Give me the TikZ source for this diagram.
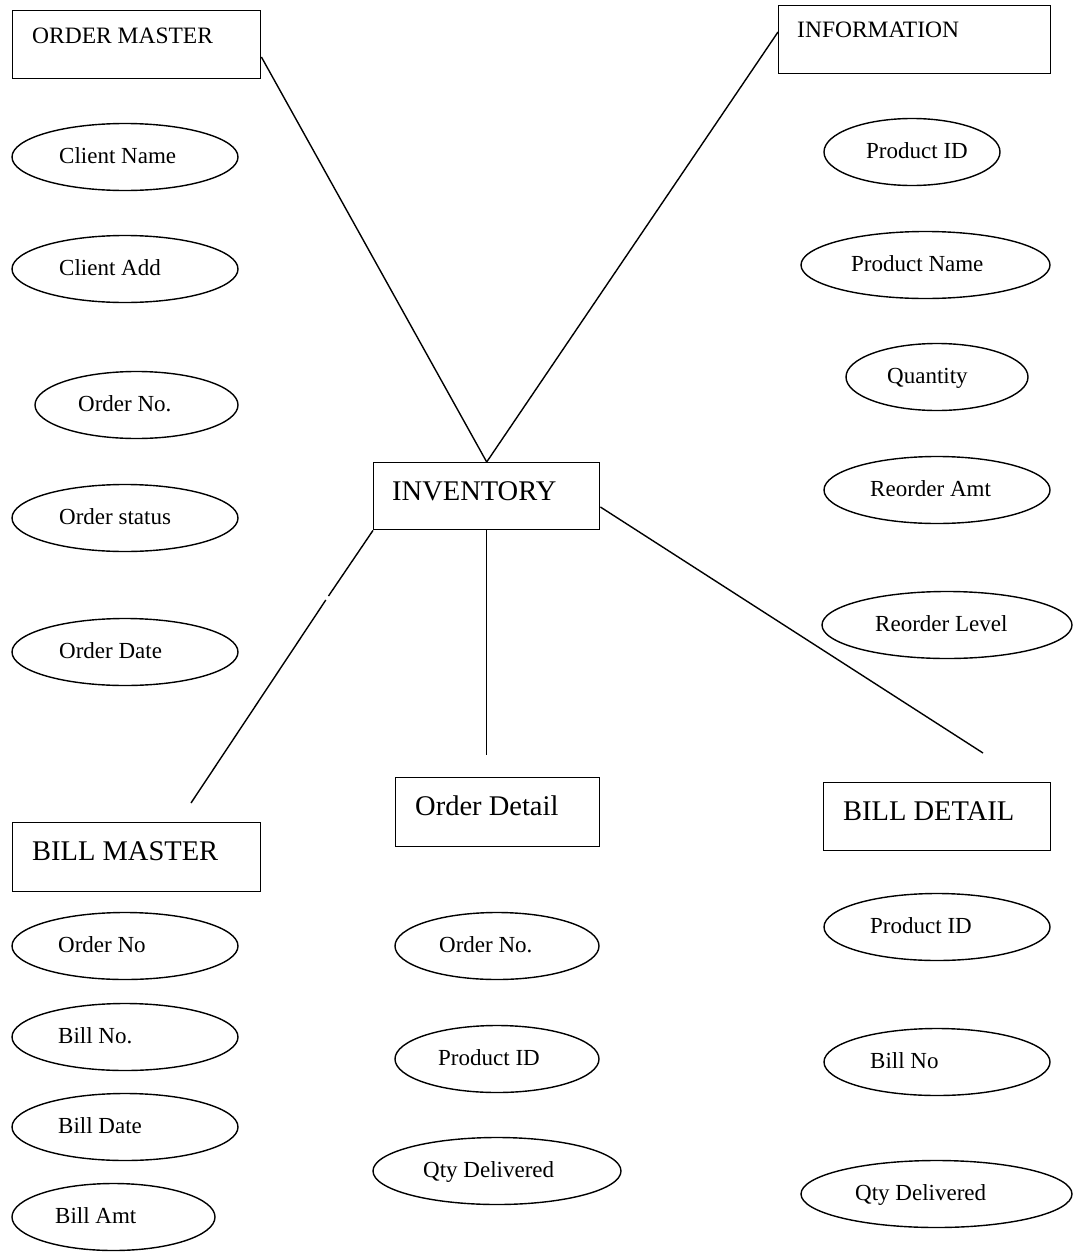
\documentclass[tikz,border=0pt]{standalone}
\usepackage{fontspec}
\setmainfont{Liberation Serif}
\usetikzlibrary{shapes.geometric,calc}

\tikzset{
  entity/.style={draw, line width=1.4pt, rectangle, inner sep=0pt, anchor=north west},
  attr/.style={draw, line width=1.4pt, ellipse, inner sep=0pt, minimum height=67pt},
  link/.style={line width=1.4pt},
  attrtext/.style={anchor=base west, inner sep=0pt, font=\fontsize{23}{27}\selectfont},
  smalltitle/.style={anchor=base west, inner sep=0pt, font=\fontsize{23.5}{27}\selectfont},
  bigtitle/.style={anchor=base west, inner sep=0pt, font=\fontsize{28.5}{32}\selectfont},
}

% #1 name, #2 centre x, #3 centre y, #4 width, #5 text start x, #6 text
\newcommand\attrnode[6]{%
  \node[attr, minimum width=#4pt] (#1) at (#2,#3) {};
  \node[attrtext] (#1-t) at (#5,#3+6) {#6};}

\begin{document}
\begin{tikzpicture}[x=1pt, y=-1pt]
\useasboundingbox (0,0) rectangle (1079,1253);

% entities
\node[entity, minimum width=248pt, minimum height=68pt] (om) at (12,10) {};
\node[smalltitle] (om-t) at (32,43) {ORDER MASTER};
\node[entity, minimum width=272pt, minimum height=68pt] (info) at (778,5) {};
\node[smalltitle] (info-t) at (797,37) {INFORMATION};
\node[entity, minimum width=226pt, minimum height=67pt] (inv) at (373,462) {};
\node[bigtitle] (inv-t) at (392,500) {INVENTORY};
\node[entity, minimum width=248pt, minimum height=69pt] (bm) at (12,822) {};
\node[bigtitle] (bm-t) at (32,860) {BILL MASTER};
\node[entity, minimum width=204pt, minimum height=69pt] (od) at (395,777) {};
\node[bigtitle] (od-t) at (415,815) {Order Detail};
\node[entity, minimum width=227pt, minimum height=68pt] (bd) at (823,782) {};
\node[bigtitle] (bd-t) at (843,820) {BILL DETAIL};

% connectors
\coordinate (bmGapA) at (328.5,596);
\coordinate (bmGapB) at (325.8,600);
\coordinate (bmEnd) at (191,803);
\coordinate (odEnd) at (486,755);
\coordinate (bdEnd) at (983,753);
\draw[link] ($(om.north east)+(0,47)$) -- (inv.north);
\draw[link] ($(info.north west)+(0,27)$) -- (inv.north);
\draw[link] (inv.south west) -- (bmGapA);
\draw[link] (bmGapB) -- (bmEnd);
\draw[link] (inv.south) -- (inv.south |- odEnd);
\draw[link] ($(inv.north east)+(0,45)$) -- (bdEnd);

% ORDER MASTER attributes
\attrnode{a1}{125}{157}{226}{59}{Client Name}
\attrnode{a2}{125}{269}{226}{59}{Client Add}
\attrnode{a3}{136.5}{405}{203}{78}{Order No.}
\attrnode{a4}{125}{518}{226}{59}{Order status}
\attrnode{a5}{125}{652}{226}{59}{Order Date}

% INFORMATION attributes
\attrnode{b1}{912}{152}{176}{866}{Product ID}
\attrnode{b2}{925.5}{265}{249}{851}{Product Name}
\attrnode{b3}{937}{377}{182}{887}{Quantity}
\attrnode{b4}{937}{490}{226}{870}{Reorder Amt}
\attrnode{b5}{947}{625}{250}{875}{Reorder Level}

% BILL MASTER attributes
\attrnode{c1}{125}{946}{226}{58}{Order No}
\attrnode{c2}{125}{1037}{226}{58}{Bill No.}
\attrnode{c3}{125}{1127}{226}{58}{Bill Date}
\attrnode{c4}{113.5}{1217}{203}{55}{Bill Amt}

% Order Detail attributes
\attrnode{d1}{497}{946}{204}{439}{Order No.}
\attrnode{d2}{497}{1059}{204}{438}{Product ID}
\attrnode{d3}{497}{1171}{248}{423}{Qty Delivered}

% BILL DETAIL attributes
\attrnode{e1}{937}{927}{226}{870}{Product ID}
\attrnode{e2}{937}{1062}{226}{870}{Bill No}
\attrnode{e3}{936.5}{1194}{271}{855}{Qty Delivered}
\end{tikzpicture}
\end{document}
